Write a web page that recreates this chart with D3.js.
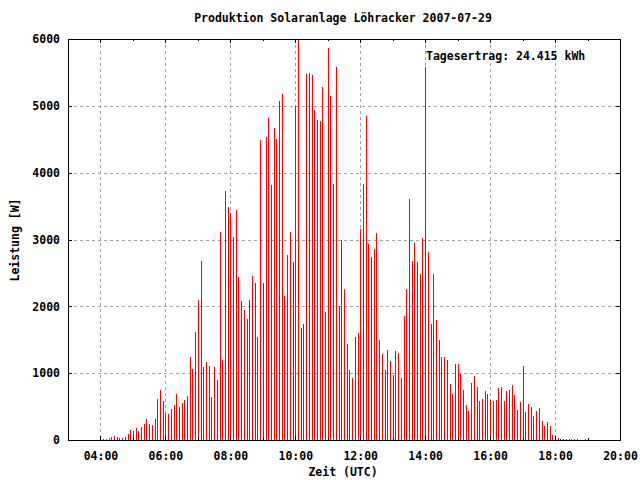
<!DOCTYPE html>
<html>
<head>
<meta charset="utf-8">
<script src="https://cdn.jsdelivr.net/npm/d3@7"></script>
<style>
  html, body { margin: 0; padding: 0; background: #fff; }
  svg { display: block; }
  text { font-family: "DejaVu Sans Mono", "Liberation Mono", monospace; font-size: 11.5px; font-weight: bold; fill: #000; }
</style>
</head>
<body>
<svg id="chart" width="640" height="480"></svg>
<script>
// ---- data ----
const title = "Produktion Solaranlage Löhracker 2007-07-29";
const xLabel = "Zeit (UTC)";
const yLabel = "Leistung [W]";
const dailyYield = "Tagesertrag: 24.415 kWh";
const day = "2007-07-29";
const xDomain = ["03:00", "20:00"];
const xTickLabels = ["04:00","06:00","08:00","10:00","12:00","14:00","16:00","18:00","20:00"];
const yTickValues = [0, 1000, 2000, 3000, 4000, 5000, 6000];

const times = [
  "04:00","04:05","04:10","04:15","04:20","04:25","04:30","04:35","04:40","04:45","04:50","04:55",
  "05:00","05:05","05:10","05:15","05:20","05:25","05:30","05:35","05:40","05:45","05:50","05:55",
  "06:00","06:05","06:10","06:15","06:20","06:25","06:30","06:35","06:40","06:45","06:50","06:55",
  "07:00","07:05","07:10","07:15","07:20","07:25","07:30","07:35","07:40","07:45","07:50","07:55",
  "08:00","08:05","08:10","08:15","08:20","08:25","08:30","08:35","08:40","08:45","08:50","08:55",
  "09:00","09:05","09:10","09:15","09:20","09:25","09:30","09:35","09:40","09:45","09:50","09:55",
  "10:00","10:05","10:10","10:15","10:20","10:25","10:30","10:35","10:40","10:45","10:50","10:55",
  "11:00","11:05","11:10","11:15","11:20","11:25","11:30","11:35","11:40","11:45","11:50","11:55",
  "12:00","12:05","12:10","12:15","12:20","12:25","12:30","12:35","12:40","12:45","12:50","12:55",
  "13:00","13:05","13:10","13:15","13:20","13:25","13:30","13:35","13:40","13:45","13:50","13:55",
  "14:00","14:05","14:10","14:15","14:20","14:25","14:30","14:35","14:40","14:45","14:50","14:55",
  "15:00","15:05","15:10","15:15","15:20","15:25","15:30","15:35","15:40","15:45","15:50","15:55",
  "16:00","16:05","16:10","16:15","16:20","16:25","16:30","16:35","16:40","16:45","16:50","16:55",
  "17:00","17:05","17:10","17:15","17:20","17:25","17:30","17:35","17:40","17:45","17:50","17:55",
  "18:00","18:05","18:10","18:15","18:20","18:25","18:30","18:35","18:40","18:45","18:50","18:55"
];

const power = [
  // 04:00
  15,15,15,35,45,60,45,30,30,45,90,150,
  // 05:00
  135,180,135,195,240,315,240,225,315,615,750,585,
  // 06:00
  405,390,465,525,690,495,554,599,659,1243,1063,1617,
  // 07:00
  2096,2680,1093,1168,1108,644,1093,898,3114,1198,3728,3488,
  // 08:00
  3398,3039,3443,2440,2081,1946,1811,2096,2455,2350,1542,4491,
  // 09:00
  2350,4536,4820,3817,4671,4506,5075,5180,2156,2769,3114,2665,
  // 10:00
  5000,6000,1677,1737,5479,5494,5464,4940,4790,4775,5284,1916,
  // 11:00
  5868,5150,3832,5584,2006,2994,2260,1437,1048,928,1542,1602,
  // 12:00
  3159,3832,4850,2934,2740,2859,3099,1497,1287,1048,1347,1183,
  // 13:00
  973,1332,1302,928,1856,2260,3608,2680,2949,2665,2485,3024,
  // 14:00
  5584,2814,1737,2485,1796,1497,1243,1243,1198,838,689,1138,
  // 15:00
  1138,988,749,524,434,860,958,793,584,614,734,689,
  // 16:00
  599,584,599,778,793,584,734,749,823,674,449,569,
  // 17:00
  1108,419,539,494,359,434,479,284,210,269,210,75,
  // 18:00
  45,30,15,15,15,15,15,15,15,0,0,15
];

// ---- chart ----
const svg = d3.select("#chart");
const pLeft = 68, pRight = 620, pTop = 39, pBottom = 440;

const toDate = s => new Date(day + "T" + s + ":00Z");
const x = d3.scaleUtc().domain(xDomain.map(toDate)).range([pLeft, pRight]);
const y = d3.scaleLinear().domain([0, 6000]).range([pBottom, pTop]);

const data = times.map((t, i) => ({ t: toDate(t), v: power[i] }));
const majorTicks = xTickLabels.map(toDate);
const minorTicks = d3.utcHour.every(1).range(toDate("04:00"), toDate("20:01"))
  .filter(d => d.getUTCHours() % 2 === 1);

// grid
const grid = svg.append("g").attr("stroke", "#a0a0a0").attr("stroke-width", 1)
  .attr("stroke-dasharray", "3,3").attr("shape-rendering", "crispEdges");
grid.selectAll("line.h").data(yTickValues.filter(v => v > 0 && v < 6000)).join("line")
  .attr("x1", pLeft).attr("x2", pRight)
  .attr("y1", d => Math.round(y(d)) + 0.5).attr("y2", d => Math.round(y(d)) + 0.5);
grid.selectAll("line.v").data(majorTicks.filter(d => x(d) < pRight - 1)).join("line")
  .attr("y1", pTop).attr("y2", pBottom)
  .attr("x1", d => Math.round(x(d)) + 0.5).attr("x2", d => Math.round(x(d)) + 0.5);

// bars (impulses)
svg.append("clipPath").attr("id", "plotclip").append("rect")
  .attr("x", pLeft).attr("y", pTop).attr("width", pRight - pLeft).attr("height", pBottom - pTop);
svg.append("g").attr("clip-path", "url(#plotclip)").attr("shape-rendering", "crispEdges")
  .selectAll("rect").data(data.filter(d => d.v > 0)).join("rect")
  .attr("x", d => Math.round(x(d.t)))
  .attr("width", 1)
  .attr("y", d => Math.round(y(d.v)))
  .attr("height", d => pBottom - Math.round(y(d.v)))
  .attr("fill", "#ff0000");

// axes
const fmt = d3.utcFormat("%H:%M");
const axB = svg.append("g").attr("transform", `translate(0,${pBottom})`)
  .call(d3.axisBottom(x).tickValues(majorTicks).tickFormat(fmt).tickSize(-4).tickPadding(12));
svg.append("g").attr("transform", `translate(0,${pTop})`)
  .call(d3.axisTop(x).tickValues(majorTicks).tickFormat("").tickSize(-4));
svg.append("g").attr("transform", `translate(0,${pBottom})`)
  .call(d3.axisBottom(x).tickValues(minorTicks).tickFormat("").tickSize(-2));
svg.append("g").attr("transform", `translate(0,${pTop})`)
  .call(d3.axisTop(x).tickValues(minorTicks).tickFormat("").tickSize(-2));
svg.append("g").attr("transform", `translate(${pLeft},0)`)
  .call(d3.axisLeft(y).tickValues(yTickValues).tickFormat(d3.format("d")).tickSize(-4).tickPadding(8));
svg.append("g").attr("transform", `translate(${pRight},0)`)
  .call(d3.axisRight(y).tickValues(yTickValues).tickFormat("").tickSize(-4));

svg.selectAll(".domain").remove();
svg.selectAll(".tick line").attr("stroke", "#000").attr("shape-rendering", "crispEdges");
svg.selectAll(".tick text").attr("font-family", null).attr("font-size", null);
axB.selectAll(".tick text").attr("dy", "0.35em").attr("y", 16);

// border
svg.append("rect").attr("x", pLeft + 0.5).attr("y", pTop + 0.5)
  .attr("width", pRight - pLeft).attr("height", pBottom - pTop)
  .attr("fill", "none").attr("stroke", "#000").attr("stroke-width", 1)
  .attr("shape-rendering", "crispEdges");

// texts
svg.append("text").attr("x", 343).attr("y", 22).attr("text-anchor", "middle").text(title);
svg.append("text").attr("x", 343).attr("y", 476).attr("text-anchor", "middle").text(xLabel);
svg.append("text").attr("transform", "translate(19,240) rotate(-90)").attr("text-anchor", "middle").text(yLabel);
svg.append("text").attr("x", 426).attr("y", 60).text(dailyYield);
</script>
</body>
</html>
